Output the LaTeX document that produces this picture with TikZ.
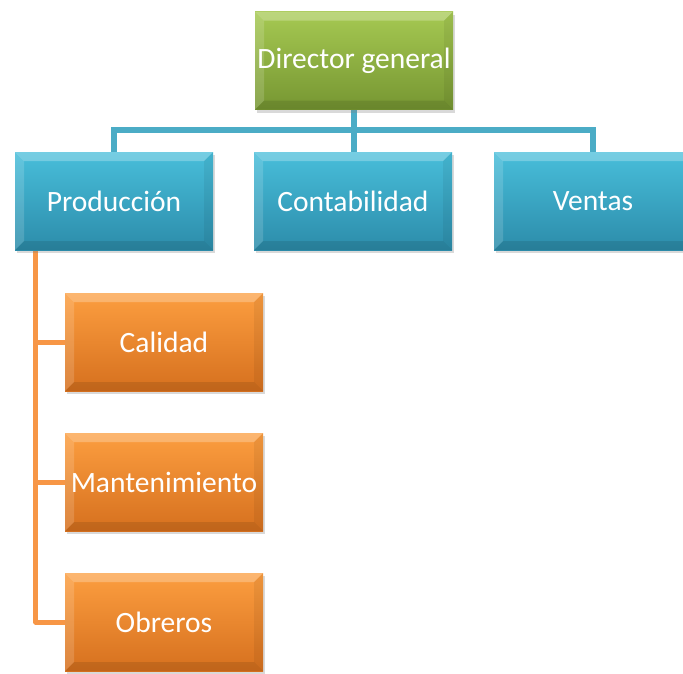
\documentclass[tikz,border=0pt]{standalone}
\usepackage{fontspec}
\setmainfont{Carlito}
\usetikzlibrary{shadows,backgrounds}
\definecolor{gtop}{RGB}{166,201,82}
\definecolor{gbot}{RGB}{118,150,50}
\definecolor{btop}{RGB}{72,190,218}
\definecolor{bbot}{RGB}{44,140,170}
\definecolor{otop}{RGB}{252,158,64}
\definecolor{obot}{RGB}{214,112,30}
\definecolor{bline}{RGB}{75,172,198}
\definecolor{oline}{RGB}{247,150,70}
\tikzset{
  orgbox/.style={minimum width=198pt, minimum height=98pt, inner sep=0pt,
    text=white, font=\fontsize{29.5}{34}\selectfont,
    drop shadow={opacity=0.3, shadow xshift=2pt, shadow yshift=-3pt},
    path picture={
      \fill[white,opacity=0.25] (path picture bounding box.north west) -- (path picture bounding box.north east)
        -- ([xshift=-9pt,yshift=-9pt]path picture bounding box.north east) -- ([xshift=9pt,yshift=-9pt]path picture bounding box.north west) -- cycle;
      \fill[white,opacity=0.15] (path picture bounding box.north west) -- ([xshift=9pt,yshift=-9pt]path picture bounding box.north west)
        -- ([xshift=9pt,yshift=9pt]path picture bounding box.south west) -- (path picture bounding box.south west) -- cycle;
      \fill[black,opacity=0.06] (path picture bounding box.north east) -- ([xshift=-9pt,yshift=-9pt]path picture bounding box.north east)
        -- ([xshift=-9pt,yshift=9pt]path picture bounding box.south east) -- (path picture bounding box.south east) -- cycle;
      \fill[black,opacity=0.1] (path picture bounding box.south west) -- ([xshift=9pt,yshift=9pt]path picture bounding box.south west)
        -- ([xshift=-9pt,yshift=9pt]path picture bounding box.south east) -- (path picture bounding box.south east) -- cycle;
    }},
  greenbox/.style={orgbox, top color=gtop, bottom color=gbot},
  bluebox/.style={orgbox, top color=btop, bottom color=bbot},
  orangebox/.style={orgbox, top color=otop, bottom color=obot},
  bconn/.style={draw=bline, line width=6pt},
  oconn/.style={draw=oline, line width=5pt, line join=round}
}
\begin{document}
\begin{tikzpicture}[x=1pt,y=-1pt]
\useasboundingbox (0,0) rectangle (683,673);
\node[greenbox] (dir) at (354,60.5) {Director general};
\node[bluebox] (prod) at (114,201) {Producción};
\node[bluebox] (cont) at (353,201) {Contabilidad};
\node[bluebox] (vent) at (593,201) {Ventas};
\node[orangebox] (cal) at (164,342) {Calidad};
\node[orangebox] (man) at (164,482) {Mantenimiento};
\node[orangebox] (obr) at (164,622) {Obreros};
\coordinate (j) at (354,130);
\begin{scope}[on background layer]
\draw[bconn] (dir.south) -- (j);
\draw[bconn] (j) -| (prod.north);
\draw[bconn] (j) -| (vent.north);
\draw[bconn] (j) -- (j |- cont.north);
\draw[oconn] ([xshift=21pt]prod.south west) |- (cal.west);
\draw[oconn] ([xshift=21pt]prod.south west) |- (man.west);
\draw[oconn] ([xshift=21pt]prod.south west) |- (obr.west);
\end{scope}
\end{tikzpicture}
\end{document}
